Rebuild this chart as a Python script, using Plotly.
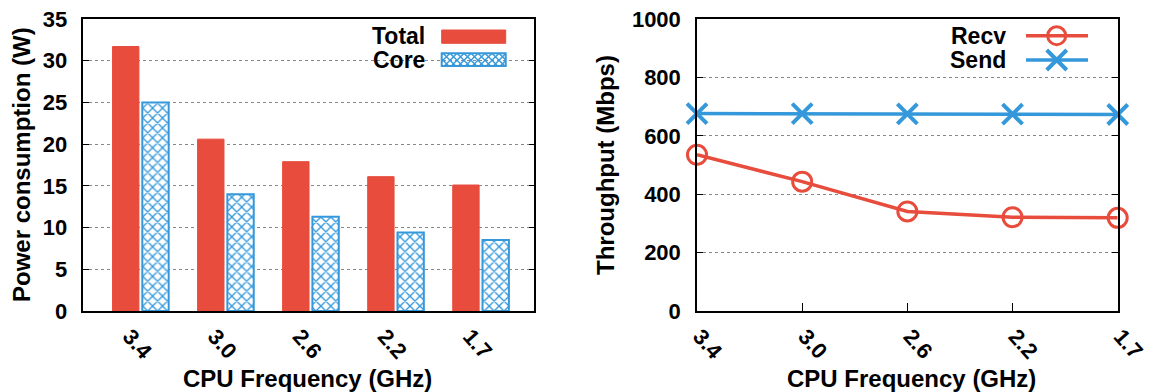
import plotly.graph_objects as go

# ---------------- data ----------------
freqs = ["3.4", "3.0", "2.6", "2.2", "1.7"]
total_power = [31.7, 20.6, 17.9, 16.1, 15.1]
core_power = [25.0, 14.0, 11.3, 9.4, 8.5]
recv_mbps = [535, 443, 341, 321, 319]
send_mbps = [676, 676, 675, 674, 673]

RED = "#E74C3C"
BLUE = "#3498DB"
W, H = 1153, 392
FONT = "Liberation Sans"


def px(x):
    return x / W


def py(y):
    return 1 - y / H


fig = go.Figure()
fig.add_trace(go.Bar(
    x=freqs, y=total_power, name="Total",
    marker=dict(color=RED, line=dict(color=RED, width=1)),
    xaxis="x", yaxis="y"))
fig.add_trace(go.Bar(
    x=freqs, y=core_power, name="Core",
    marker=dict(color="white", line=dict(color=BLUE, width=2),
                pattern=dict(shape="x", fgcolor=BLUE, bgcolor="white",
                             size=7, solidity=0.35, fillmode="replace")),
    xaxis="x", yaxis="y"))
fig.add_trace(go.Scatter(
    x=freqs, y=recv_mbps, name="Recv", mode="lines+markers", cliponaxis=False,
    line=dict(color=RED, width=3.5),
    marker=dict(symbol="circle-open", size=19, color=RED, line=dict(width=3, color=RED)),
    xaxis="x2", yaxis="y2"))
fig.add_trace(go.Scatter(
    x=freqs, y=send_mbps, name="Send", mode="lines+markers", cliponaxis=False,
    line=dict(color=BLUE, width=3.5),
    marker=dict(symbol="x-thin", size=20, color=BLUE, line=dict(width=4, color=BLUE)),
    xaxis="x2", yaxis="y2"))

tickfont = dict(family=FONT, size=22, color="black", weight="bold")
ydom = [py(311), py(19)]
common_y = dict(showline=True, linecolor="black", linewidth=1.5, mirror="ticks",
                ticks="inside", ticklen=6, tickcolor="black", tickfont=tickfont,
                showgrid=True, gridcolor="#888", griddash="dot", gridwidth=1,
                zeroline=False, automargin=False, ticklabelstandoff=10, domain=ydom)

fig.update_layout(
    width=W, height=H, margin=dict(l=0, r=0, t=0, b=0),
    paper_bgcolor="white", plot_bgcolor="white", showlegend=False,
    barmode="group", bargap=0.30, bargroupgap=0.114,
    xaxis=dict(domain=[px(83.3), px(534.3)], type="category", range=[-0.674, 4.629],
               showline=True, linecolor="black", linewidth=1.5, mirror=True,
               ticks="", tickangle=48, tickfont=tickfont, showgrid=False,
               automargin=False, ticklabelstandoff=2, ticklabelshift=-11),
    yaxis=dict(range=[0, 35], dtick=5, **common_y),
    xaxis2=dict(domain=[px(697), px(1117.7)], type="category", range=[0, 4],
                showline=True, linecolor="black", linewidth=1.5, mirror=True,
                ticks="inside", ticklen=8, tickcolor="black",
                tickangle=48, tickfont=tickfont, showgrid=False,
                automargin=False, ticklabelstandoff=2, ticklabelshift=3, anchor="y2"),
    yaxis2=dict(range=[0, 1000], dtick=200, anchor="x2", **common_y),
)

titlefont = dict(family=FONT, size=24, color="black", weight="bold")
ann = []
ann.append(dict(text="Power consumption (W)", x=px(21), y=py(165), textangle=-90))
ann.append(dict(text="Throughput (Mbps)", x=px(605), y=py(165), textangle=-90))
ann.append(dict(text="CPU Frequency (GHz)", x=px(307.5), y=py(378)))
ann.append(dict(text="CPU Frequency (GHz)", x=px(911), y=py(378)))
for a in ann:
    a.update(xref="paper", yref="paper", showarrow=False, font=titlefont,
             xanchor="center", yanchor="middle")

legfont = dict(family=FONT, size=23, color="black", weight="bold")
for name, xr, yc in [("Total", 427.3, 35.8), ("Core", 427.3, 60.4),
                     ("Recv", 1008, 35.7), ("Send", 1008, 60.3)]:
    ann.append(dict(text=name, x=px(xr), y=py(yc), xref="paper", yref="paper",
                    showarrow=False, font=legfont, xanchor="right", yanchor="middle"))
fig.update_layout(annotations=ann)

shapes = []
# legend background (left chart)
shapes.append(dict(type="rect", xref="paper", yref="paper", layer="between",
                   x0=px(357), x1=px(513), y0=py(24), y1=py(72),
                   fillcolor="white", line=dict(width=0)))
# Total swatch
shapes.append(dict(type="rect", xref="paper", yref="paper",
                   x0=px(441.7), x1=px(505.7), y0=py(43.3), y1=py(30),
                   fillcolor=RED, line=dict(color=RED, width=1)))
# Core swatch with crosshatch
sx0, sx1, sy0, sy1 = 441.7, 505.7, 53.3, 66.0
step = 7
k = -(sy1 - sy0) - step
while k < (sx1 - sx0) + (sy1 - sy0) + step:
    c = sx0 - sy0 + k
    a0 = max(sx0, sy0 + c); a1 = min(sx1, sy1 + c)
    if a1 > a0:
        shapes.append(dict(type="line", xref="paper", yref="paper",
                           x0=px(a0), y0=py(a0 - c), x1=px(a1), y1=py(a1 - c),
                           line=dict(color=BLUE, width=1.4)))
    c2 = sx0 + sy0 + k
    b0 = max(sx0, c2 - sy1); b1 = min(sx1, c2 - sy0)
    if b1 > b0:
        shapes.append(dict(type="line", xref="paper", yref="paper",
                           x0=px(b0), y0=py(c2 - b0), x1=px(b1), y1=py(c2 - b1),
                           line=dict(color=BLUE, width=1.4)))
    k += step
shapes.append(dict(type="rect", xref="paper", yref="paper",
                   x0=px(sx0), x1=px(sx1), y0=py(sy1), y1=py(sy0),
                   fillcolor="rgba(0,0,0,0)", line=dict(color=BLUE, width=2)))

# Right legend: Recv
shapes.append(dict(type="line", xref="paper", yref="paper",
                   x0=px(1026), x1=px(1088), y0=py(35.7), y1=py(35.7),
                   line=dict(color=RED, width=3.5)))
shapes.append(dict(type="circle", xref="paper", yref="paper",
                   xsizemode="pixel", ysizemode="pixel",
                   xanchor=px(1056.7), yanchor=py(35.7),
                   x0=-9, x1=9, y0=-9, y1=9,
                   line=dict(color=RED, width=3)))
# Right legend: Send
shapes.append(dict(type="line", xref="paper", yref="paper",
                   x0=px(1026), x1=px(1088), y0=py(60), y1=py(60),
                   line=dict(color=BLUE, width=3.5)))
for sgn in (1, -1):
    shapes.append(dict(type="line", xref="paper", yref="paper",
                       xsizemode="pixel", ysizemode="pixel",
                       xanchor=px(1056.7), yanchor=py(60),
                       x0=-10, x1=10, y0=-10 * sgn, y1=10 * sgn,
                       line=dict(color=BLUE, width=4)))
fig.update_layout(shapes=shapes)

fig.write_html("out.html")
